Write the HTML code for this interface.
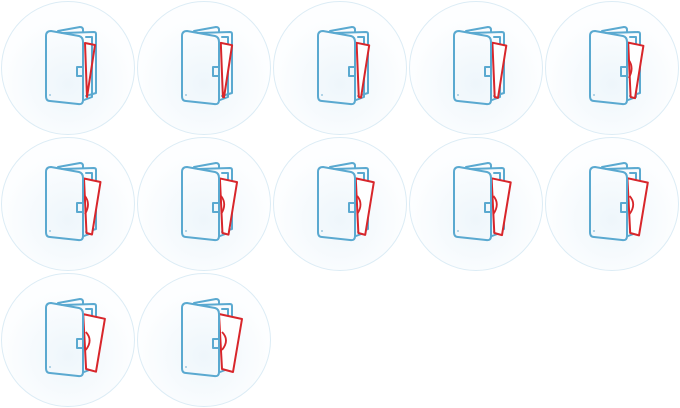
<!DOCTYPE html>
<html><head><meta charset="utf-8"><style>
html,body{margin:0;padding:0;background:#fff;width:680px;height:408px;overflow:hidden}
svg{display:block}
</style></head><body>
<svg id="sheet" width="680" height="408" viewBox="0 0 680 408">
<defs>
<radialGradient id="rg" cx="50%" cy="62%" r="50%">
<stop offset="0" stop-color="#eef6fb"/><stop offset="1" stop-color="#fdfeff"/>
</radialGradient>
</defs>
</svg>
<script>
const frames = [0,0.1,0.2,0.3,0.4,0.5,0.55,0.62,0.7,0.8,0.9,1.0];
const cols = 5, cell = 136;
const ns = 'http://www.w3.org/2000/svg';
const svg = document.getElementById('sheet');
function mk(t, a, p){const e=document.createElementNS(ns,t);for(const k in a)e.setAttribute(k,a[k]);p.appendChild(e);return e;}
function lerp(a,b,t){return a+(b-a)*t;}
frames.forEach((t,i)=>{
  const g = mk('g',{transform:`translate(${(i%cols)*cell},${Math.floor(i/cols)*cell})`},svg);
  
  
  mk('circle',{cx:68,cy:68,r:66.5,fill:'url(#rg)',stroke:'#dcecf5','stroke-width':1},g);
  const s={fill:'none',stroke:'#5aa9d0','stroke-width':2,'stroke-linejoin':'round','stroke-linecap':'round'};
  mk('path',Object.assign({d:'M58,31 L80,27 Q83,27 83,30 L83,32'},s),g);
  mk('path',Object.assign({d:'M62,33 L94,32 Q96,32 96,34 L96,93 L86,96'},s),g);
  mk('path',Object.assign({d:'M86,37 L92,37 L92,97 L84,100'},s),g);
  const TL=[lerp(85,83,t),lerp(43,42,t)], TR=[lerp(95,106,t),lerp(45,47,t)],
        BR=[lerp(87,97,t),lerp(97,100,t)], BL=[lerp(87,86,t),lerp(97,97,t)];
  mk('path',{d:`M${TL} L${TR} L${BR} L${BL} Z`,fill:t>0?'#fff':'none',stroke:'#d8262b','stroke-width':2,'stroke-linejoin':'round'},g);
  if(t>0.35){
    mk('path',{d:`M${lerp(84,86,t)},60 Q${lerp(88,94,t)},68 ${lerp(84,86,t)},78`,fill:'none',stroke:'#d8262b','stroke-width':1.8},g);
  }
  mk('path',Object.assign({d:'M46,36 Q46,31 51,31 L79,36 Q83,37 83,42 L83,100 Q83,105 78,104 L50,101 Q46,101 46,96 Z',fill:'#fbfdfe'},s),g);
  mk('rect',Object.assign({x:77,y:67,width:6,height:9},s),g);
  mk('circle',{cx:50,cy:95,r:1,fill:'#9cc9e0'},g);
});
</script>
</body></html>
